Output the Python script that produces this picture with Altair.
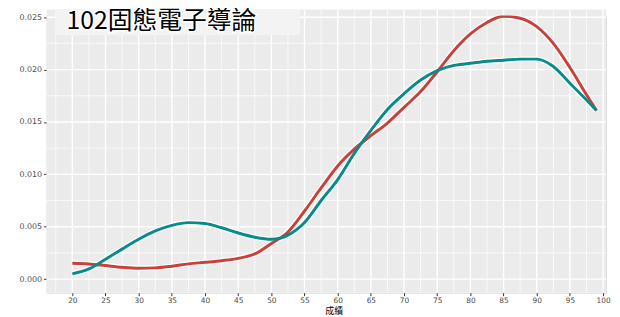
import altair as alt
import pandas as pd

# Scores (x) and density estimates for the two groups
x_vals = [20, 22.5, 25, 27.5, 30, 32.5, 35, 37.5, 40, 42.5, 45, 47.5, 50, 52.5, 55,
          57.5, 60, 62.5, 65, 67.5, 70, 72.5, 75, 77.5, 80, 82.5, 85, 87.5, 90,
          92.5, 95, 97.5, 99]
red_vals = [0.00151, 0.00145, 0.00129, 0.00113, 0.00104, 0.00107, 0.00123, 0.00145,
            0.0016, 0.00176, 0.00198, 0.0024, 0.0034, 0.0045, 0.0065, 0.0087, 0.0108,
            0.0124, 0.0137, 0.0149, 0.0164, 0.0179, 0.0198, 0.0218, 0.0234, 0.0245,
            0.0251, 0.0249, 0.0241, 0.0225, 0.0202, 0.0176, 0.0161]
teal_vals = [0.0005, 0.00097, 0.0019, 0.00286, 0.0038, 0.0046, 0.00513, 0.00539,
             0.0053, 0.0049, 0.0044, 0.0040, 0.0038, 0.0042, 0.0054, 0.0075, 0.0095,
             0.0120, 0.0142, 0.0162, 0.0177, 0.0190, 0.0199, 0.0204, 0.0206, 0.0208,
             0.0209, 0.0210, 0.0210, 0.0203, 0.0187, 0.0171, 0.0161]
group_names = ["A", "B"]
group_colors = ["#C8413A", "#0B8A8C"]

x_ticks = list(range(20, 101, 5))
x_minor = [17.5 + 5 * i for i in range(17)]
y_ticks = [0.0, 0.005, 0.010, 0.015, 0.020, 0.025]
y_minor = [0.0025, 0.0075, 0.0125, 0.0175, 0.0225]
title_text = "102固態電子導論"
x_title = "成績"

rows = []
for xv, rv, tv in zip(x_vals, red_vals, teal_vals):
    rows.append({"x": xv, "y": rv, "g": group_names[0]})
    rows.append({"x": xv, "y": tv, "g": group_names[1]})
df = pd.DataFrame(rows)

xdom = [16.12, 100.45]
ydom = [-0.0013, 0.02517]

xscale = alt.Scale(domain=xdom, nice=False, zero=False)
yscale = alt.Scale(domain=ydom, nice=False, zero=False)

xaxis = alt.Axis(values=x_ticks, title=x_title, grid=False,
                 domain=False, tickColor="#333333", tickSize=3,
                 labelFontSize=7.5, labelColor="#4d4d4d", labelPadding=1,
                 titleFontSize=9, titleFontWeight="normal", titleColor="black",
                 titlePadding=2.5, titleX=290, labelFont="DejaVu Sans",
                 titleFont="Noto Sans CJK TC")
yaxis = alt.Axis(values=y_ticks, format=".3f", title=None, grid=False,
                 domain=False, tickColor="#333333", tickSize=3,
                 labelFontSize=8, labelColor="#4d4d4d", labelPadding=2,
                 labelFont="DejaVu Sans")

one = pd.DataFrame({"t": [title_text]})
panel = alt.Chart(one).mark_rect(color="#EBEBEB").encode(
    x=alt.value(0), x2=alt.value(565), y=alt.value(-6), y2=alt.value(280))

minor_x = alt.Chart(pd.DataFrame({"x": x_minor})).mark_rule(
    color="white", strokeWidth=0.7).encode(
    x=alt.X("x:Q", scale=xscale, axis=xaxis), y=alt.value(-6), y2=alt.value(280))
minor_y = alt.Chart(pd.DataFrame({"y": y_minor})).mark_rule(
    color="white", strokeWidth=0.7).encode(y=alt.Y("y:Q", scale=yscale, axis=yaxis))
major_x = alt.Chart(pd.DataFrame({"x": x_ticks})).mark_rule(
    color="white", strokeWidth=1.4).encode(
    x=alt.X("x:Q", scale=xscale, axis=xaxis), y=alt.value(-6), y2=alt.value(280))
major_y = alt.Chart(pd.DataFrame({"y": y_ticks})).mark_rule(
    color="white", strokeWidth=1.4).encode(y=alt.Y("y:Q", scale=yscale, axis=yaxis))

base = alt.Chart(df).encode(
    x=alt.X("x:Q", scale=xscale, axis=xaxis),
    y=alt.Y("y:Q", scale=yscale, axis=yaxis),
    detail="g:N",
)
halo = base.mark_line(strokeWidth=5.5, color="white", interpolate="monotone", clip=True)
lines = base.mark_line(strokeWidth=3, interpolate="monotone", clip=True).encode(
    color=alt.Color("g:N", scale=alt.Scale(domain=group_names, range=group_colors),
                    legend=None)
)

box = alt.Chart(one).mark_rect(color="#F3F3F3").encode(
    x=alt.value(9), x2=alt.value(256), y=alt.value(-6), y2=alt.value(20))
ttl_halo = alt.Chart(one).mark_text(
    align="left", baseline="middle", fontSize=25, font="Noto Sans CJK TC",
    color="white", stroke="white", strokeWidth=3).encode(
    x=alt.value(20), y=alt.value(6), text="t:N")
ttl = alt.Chart(one).mark_text(
    align="left", baseline="middle", fontSize=25, font="Noto Sans CJK TC",
    color="black").encode(x=alt.value(20), y=alt.value(6), text="t:N")

chart = alt.layer(panel, minor_x, minor_y, major_x, major_y, halo, lines, box,
                  ttl_halo, ttl).properties(
    width=565, height=280,
    autosize=alt.AutoSizeParams(type="none"),
    padding={"left": 39, "top": 6, "right": 6, "bottom": 22},
).configure_view(stroke=None).configure(background="white")

chart.save("out.html", embed_options={"renderer": "svg", "actions": False})
